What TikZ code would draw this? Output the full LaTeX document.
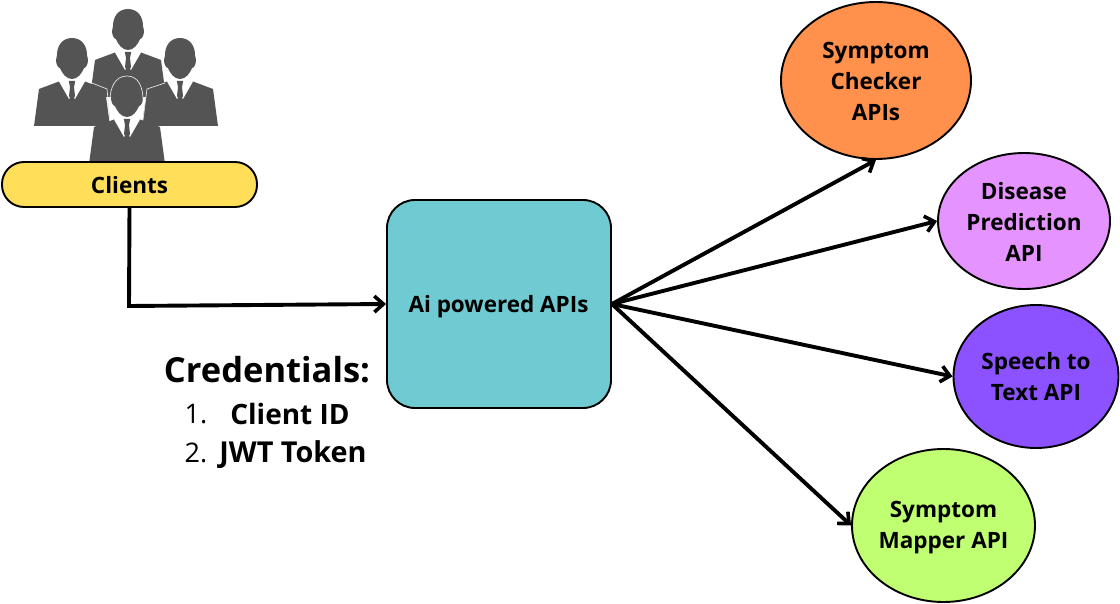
\documentclass[tikz,border=0pt]{standalone}
\usepackage{fontspec}
\setmainfont{Open Sans}
\usetikzlibrary{arrows.meta,shapes.geometric}
\definecolor{suit}{HTML}{545454}
\definecolor{cyel}{HTML}{FFDE59}
\definecolor{cteal}{HTML}{6FCBD1}
\definecolor{corg}{HTML}{FF914D}
\definecolor{cpnk}{HTML}{E593FF}
\definecolor{cpur}{HTML}{8C52FF}
\definecolor{cgrn}{HTML}{C1FF72}
\tikzset{
  x=1pt,y=-1pt,
  api/.style={ellipse,draw=black,line width=1.9pt,inner sep=0pt,align=center,font=\fontsize{22.5}{31}\selectfont\bfseries},
  link/.style={line width=3.9pt,-{Straight Barb[length=9pt,width=16pt,line width=3.6pt]}},
  person/.pic={
    \fill[suit] (-38,68)--(-33,31)--(-13,23.5)--(13,23.5)--(33,31)--(38,68)--cycle;
    \fill[white] (-13,23.5)--(-5,20)--(5,20)--(13,23.5)--(3,41)--(0,38)--(-3,41)--cycle;
    \fill[suit] (-3.2,23)--(3.2,23)--(2,29)--(3,38)--(0,44)--(-3,38)--(-2,29)--cycle;
    \fill[suit] (0,-20) .. controls (10,-20) and (15,-12) .. (15,-3)
      .. controls (15,0) and (15.5,0) .. (16,2)
      .. controls (16,6) and (14,10) .. (12,10)
      .. controls (10,15) and (6,21) .. (0,21)
      .. controls (-6,21) and (-10,15) .. (-12,10)
      .. controls (-14,10) and (-16,6) .. (-16,2)
      .. controls (-15.5,0) and (-15,0) .. (-15,-3)
      .. controls (-15,-12) and (-10,-20) .. (0,-20) -- cycle;
  },
}
\begin{document}
\begin{tikzpicture}
\useasboundingbox (0,0) rectangle (1120,604);
% people
\pic at (128,29) {person};
\pic at (72,58) {person};
\pic at (180,58) {person};
\pic at (127,96) {person};
\draw[white!85!suit,line width=0.7pt] (92,83)--(107,89)--(110,120);
\draw[white!85!suit,line width=0.7pt] (165,83)--(147,89)--(143,120);
\draw[white!85!suit,line width=0.7pt] (110,100) .. controls (110,88) and (115,76) .. (127,76) .. controls (139,76) and (143,88) .. (143,100);
% nodes
\node[draw=black,line width=1.9pt,fill=cyel,rounded corners=22pt,minimum width=255pt,minimum height=45pt,inner sep=0pt] (clients) at (129.5,184.5) {};
\node[font=\fontsize{22.5}{25}\selectfont\bfseries] (clientstext) at (129.5,185.5) {Clients};
\node[draw=black,line width=1.9pt,fill=cteal,rounded corners=28pt,minimum width=224pt,minimum height=208pt,inner sep=0pt] (hub) at (499,304) {};
\node[font=\fontsize{22.5}{25}\selectfont\bfseries] (hubtext) at (498.5,307) {Ai powered APIs};
\node[api,fill=corg,minimum width=190pt,minimum height=157pt] (sym) at (876,80.5) {};
\node[api,draw=none] (symtext) at (876,81) {Symptom\\Checker\\APIs};
\node[api,fill=cpnk,minimum width=172pt,minimum height=136pt] (dis) at (1024,221) {};
\node[api,draw=none] (distext) at (1024,222) {Disease\\Prediction\\API};
\node[api,fill=cpur,minimum width=165pt,minimum height=143pt] (spe) at (1036,376.5) {};
\node[api,draw=none] (spetext) at (1036,376.5) {Speech to\\Text API};
\node[api,fill=cgrn,minimum width=183pt,minimum height=153pt] (map) at (943.5,525.5) {};
\node[api,draw=none] (maptext) at (943.5,528) {Symptom\\Mapper API};
% text
\node[font=\fontsize{34.5}{38}\selectfont\bfseries] (cred) at (267,370) {Credentials:};
\node[font=\fontsize{27}{30}\selectfont] (n1) at (196,414) {1.};
\node[font=\fontsize{28}{30}\selectfont\bfseries] (t1) at (290,414) {Client ID};
\node[font=\fontsize{27}{30}\selectfont] (n2) at (196,453) {2.};
\node[font=\fontsize{28.8}{30}\selectfont\bfseries] (t2) at (293,454.5) {JWT Token};
% connectors
\coordinate (bend) at (129,306);
\draw[link,line join=miter] (clients.south) -- (bend) -- (hub.west);
\draw[link] (hub.east) -- (sym.south);
\draw[link] (hub.east) -- (dis.west);
\draw[link] (hub.east) -- (spe.west);
\draw[link] (hub.east) -- (map.west);
\end{tikzpicture}
\end{document}
